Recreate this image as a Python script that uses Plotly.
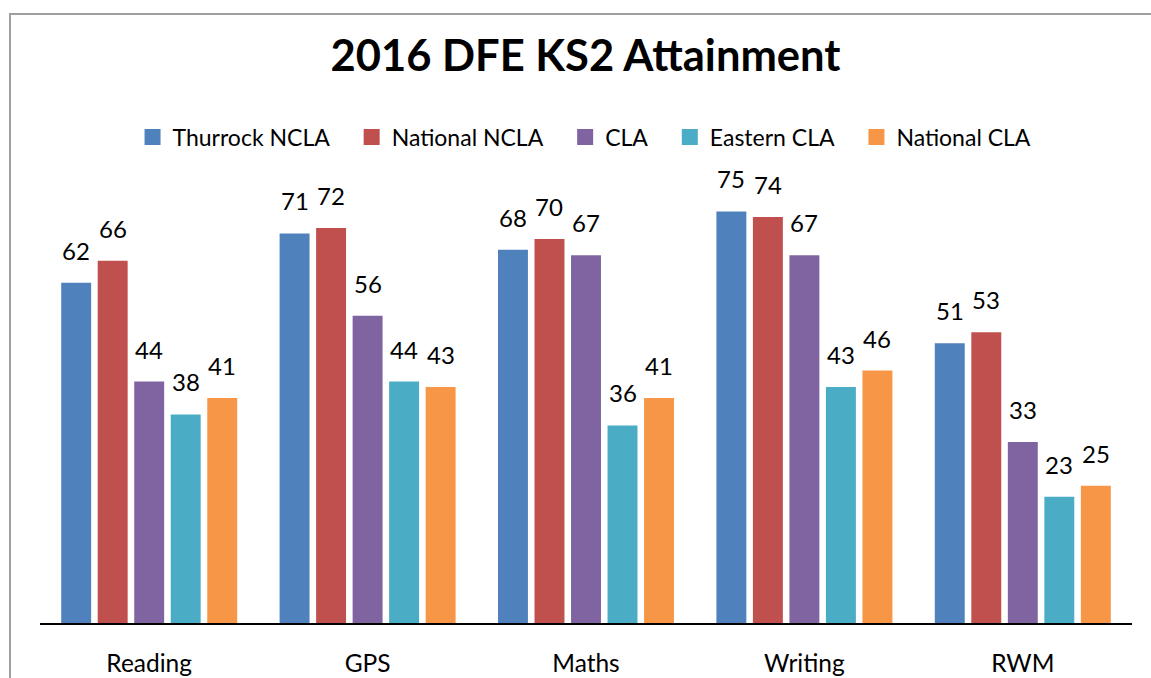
import plotly.graph_objects as go

categories = ["Reading", "GPS", "Maths", "Writing", "RWM"]
series_names = ["Thurrock NCLA", "National NCLA", "CLA", "Eastern CLA", "National CLA"]
thurrock_ncla = [62, 71, 68, 75, 51]
national_ncla = [66, 72, 70, 74, 53]
cla = [44, 56, 67, 67, 33]
eastern_cla = [38, 44, 36, 43, 23]
national_cla = [41, 43, 41, 46, 25]
colors = ["#4F81BD", "#C0504D", "#8064A2", "#4BACC6", "#F79646"]
all_series = [thurrock_ncla, national_ncla, cla, eastern_cla, national_cla]

FONT = "Lato, 'Open Sans', sans-serif"
W, H = 1151, 678
ML, MR, MT, MB = 40, 19, 184, 55
BARGAP = 0.164
plot_w = W - ML - MR
plot_h = H - MT - MB
cat_w = plot_w / len(categories)
slot_w = cat_w * (1 - BARGAP) / len(all_series)

fig = go.Figure()
for name, vals, col in zip(series_names, all_series, colors):
    fig.add_trace(go.Bar(
        x=categories, y=vals, name=name, showlegend=False,
        marker=dict(color=col, line=dict(width=0)),
    ))
# legend entries with larger square swatches (trailing spaces widen the gaps)
for name, col in zip(series_names, colors):
    fig.add_trace(go.Scatter(
        x=[None], y=[None], mode="markers", name=name + "\u00a0\u00a0\u00a0",
        marker=dict(symbol="square", size=16, color=col, line=dict(width=0)),
    ))

# data labels above each bar
n = len(all_series)
for i, vals in enumerate(all_series):
    for cat, v in zip(categories, vals):
        fig.add_annotation(
            x=cat, y=v, text=str(v), showarrow=False,
            xshift=(i - (n - 1) / 2) * slot_w, yshift=16,
            yanchor="bottom", xanchor="center",
            font=dict(size=24, family=FONT, color="black"),
        )

fig.update_layout(
    width=W, height=H,
    margin=dict(l=ML, r=MR, t=MT, b=MB, autoexpand=False),
    paper_bgcolor="white", plot_bgcolor="white",
    barmode="group", bargap=BARGAP, bargroupgap=0.18,
    font=dict(family=FONT, color="black"),
    title=dict(text="<b>2016 DFE KS2 Attainment</b>", x=0.5087, xanchor="center",
               y=0.918, yanchor="middle", font=dict(size=43.5, family=FONT, color="black")),
    legend=dict(orientation="h", x=0.506, xanchor="center", y=1.107, yanchor="middle",
                font=dict(size=23, family=FONT, color="black"),
                itemwidth=30, traceorder="normal"),
    showlegend=True,
)
fig.update_xaxes(showline=True, linecolor="black", linewidth=1.5, ticks="",
                 tickfont=dict(size=24.5, family=FONT, color="black"),
                 ticklabelstandoff=18, showgrid=False, automargin=False)
fig.update_yaxes(range=[0, 80], visible=False, showgrid=False, automargin=False)

fig.add_shape(type="rect", xref="paper", yref="paper",
              x0=(10 - ML) / plot_w, x1=(1175 - ML) / plot_w,
              y0=(623 - 700) / plot_h, y1=(623 - 14) / plot_h,
              line=dict(color="#A0A0A0", width=2), fillcolor="rgba(0,0,0,0)", layer="below")

fig.write_html("out.html", config={"displayModeBar": False},
               post_script="document.body.style.margin='0px';")
